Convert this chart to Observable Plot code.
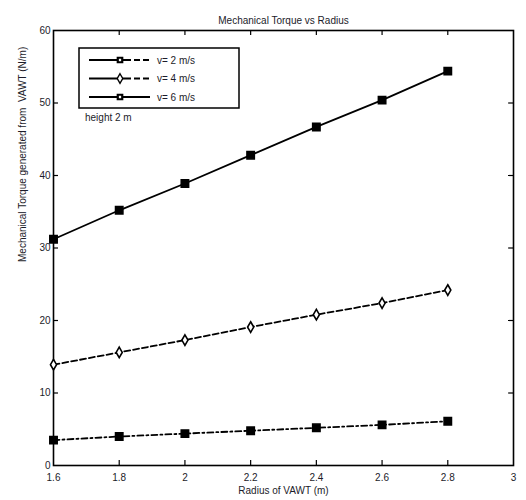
<!DOCTYPE html>
<html>
<head>
<meta charset="utf-8">
<script src="https://cdn.jsdelivr.net/npm/d3@7"></script>
<script src="https://cdn.jsdelivr.net/npm/@observablehq/plot@0.6"></script>
<style>
  html, body { margin: 0; padding: 0; background: #fff; }
  svg { font-family: "Liberation Sans", Arial, sans-serif; }
</style>
</head>
<body>
<div id="chart"></div>
<script>
const radius = [1.6, 1.8, 2.0, 2.2, 2.4, 2.6, 2.8];
const torqueV2 = [3.5, 4.0, 4.4, 4.8, 5.2, 5.6, 6.1];
const torqueV4 = [13.9, 15.6, 17.3, 19.1, 20.8, 22.4, 24.2];
const torqueV6 = [31.2, 35.2, 38.9, 42.8, 46.7, 50.4, 54.4];
const seriesNames = ["v= 2 m/s", "v= 4 m/s", "v= 6 m/s"];
const xTicks = [1.6, 1.8, 2, 2.2, 2.4, 2.6, 2.8, 3];
const yTicks = [0, 10, 20, 30, 40, 50, 60];
const titleText = "Mechanical Torque vs Radius";
const xLabel = "Radius of VAWT (m)";
const yLabel = "Mechanical Torque generated from  VAWT (N/m)";
const noteText = "height 2 m";

const seriesStyles = [
  {dash: "6,3,2,3", symbol: "square", fill: "black", sw: 1.5, r: 4.2},
  {dash: "6,3", symbol: "diamond", fill: "white", sw: 1.6, r: 3.2},
  {dash: null, symbol: "square", fill: "black", sw: 1.5, r: 4.2}
];
const seriesData = [torqueV2, torqueV4, torqueV6].map((vals, i) =>
  radius.map((x, j) => ({x, y: vals[j], s: seriesNames[i]})));

const W = 526, H = 500;
const mL = 53, mR = 13, mT = 30, mB = 35;
const fw = W - mL - mR, fh = H - mT - mB;
const ink = "#1c1c2a";

const marks = [
  Plot.axisX({ticks: xTicks, tickSize: 0, tickPadding: 8, fontSize: 10, tickFormat: d => String(d), label: null, color: ink}),
  Plot.axisY({ticks: yTicks, tickSize: 0, tickPadding: 3, fontSize: 10, label: null, color: ink}),
  Plot.ruleX(xTicks.slice(1, -1), {x: d => d, insetTop: fh - 5, stroke: "black", strokeWidth: 1.2}),
  Plot.ruleX(xTicks.slice(1, -1), {x: d => d, insetBottom: fh - 5, stroke: "black", strokeWidth: 1.2}),
  Plot.ruleY(yTicks.slice(1, -1), {y: d => d, insetRight: fw - 5, stroke: "black", strokeWidth: 1.2}),
  Plot.ruleY(yTicks.slice(1, -1), {y: d => d, insetLeft: fw - 5, stroke: "black", strokeWidth: 1.2}),
  Plot.frame({stroke: "black", strokeWidth: 1.6}),
  Plot.text([titleText], {text: d => d, frameAnchor: "top", dy: -14, fontSize: 10, fill: ink}),
  Plot.text([xLabel], {text: d => d, frameAnchor: "bottom", dy: 28, fontSize: 10, fill: ink}),
  Plot.text([yLabel], {text: d => d, frameAnchor: "left", dx: -31, dy: 14, rotate: -90, fontSize: 10, fill: ink})
];
seriesData.forEach((data, i) => {
  const st = seriesStyles[i];
  marks.push(Plot.line(data, {x: "x", y: "y", stroke: "black", strokeWidth: 1.8, strokeDasharray: st.dash}));
  marks.push(Plot.dot(data, {x: "x", y: "y", symbol: st.symbol, r: st.r, fill: st.fill, stroke: "black", strokeWidth: st.sw}));
});

const chart = Plot.plot({
  width: W, height: H,
  marginLeft: mL, marginRight: mR, marginTop: mT, marginBottom: mB,
  style: {fontFamily: "'Liberation Sans', Arial, sans-serif", fontSize: "10px", background: "white"},
  x: {domain: [1.6, 3]},
  y: {domain: [0, 60]},
  marks
});
document.getElementById("chart").appendChild(chart);

// Legend overlay (inside plot, top-left)
const svg = d3.select(chart);
const lg = svg.append("g").attr("transform", "translate(79,48)");
lg.append("rect").attr("width", 160).attr("height", 60).attr("fill", "white").attr("stroke", "black").attr("stroke-width", 1.5);
seriesNames.forEach((name, i) => {
  const st = seriesStyles[i];
  const y = 12 + i * 18.5;
  lg.append("line").attr("x1", 10).attr("x2", 71).attr("y1", y).attr("y2", y)
    .attr("stroke", "black").attr("stroke-width", 2)
    .attr("stroke-dasharray", st.dash ? "42,3,6,3,6" : null);
  lg.append("path").attr("transform", `translate(41,${y})`)
    .attr("d", d3.symbol(st.symbol === "square" ? d3.symbolSquare : d3.symbolDiamond, st.symbol === "square" ? 20 : 26)())
    .attr("fill", "white").attr("stroke", "black").attr("stroke-width", st.symbol === "square" ? 2.2 : 1.4);
  lg.append("text").attr("x", 78).attr("y", y).attr("dy", "0.35em").attr("text-anchor", "start")
    .attr("font-size", 10).attr("fill", ink).text(name);
});
svg.append("text").attr("x", 85).attr("y", 117).attr("dy", "0.35em").attr("text-anchor", "start")
  .attr("font-size", 10).attr("fill", ink).text(noteText);
</script>
</body>
</html>
